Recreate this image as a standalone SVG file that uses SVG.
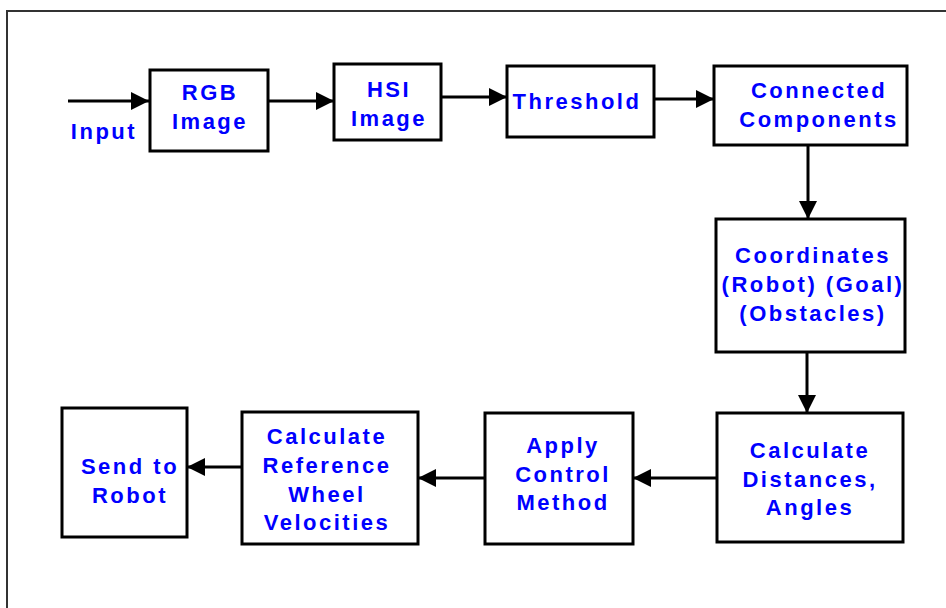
<svg xmlns="http://www.w3.org/2000/svg" width="946" height="608" viewBox="0 0 946 608">
  <style>
    .box { fill: #ffffff; stroke: #000000; stroke-width: 3; }
    .lbl { font-family: "Liberation Sans", Arial, sans-serif; font-weight: bold; font-size: 22px; fill: #0000ff; letter-spacing: 2.5px; text-anchor: middle; }
    .wire { fill: none; stroke: #000000; stroke-width: 3; marker-end: url(#head); }
  </style>
  <defs>
    <marker id="head" markerUnits="userSpaceOnUse" markerWidth="20" markerHeight="20" refX="18" refY="10" orient="auto">
      <path d="M0,1 L18,10 L0,19 z" fill="#000000"/>
    </marker>
  </defs>

  <rect width="946" height="608" fill="#ffffff"/>
  <!-- outer frame -->
  <path d="M7,608 V11 H946" fill="none" stroke="#333333" stroke-width="2"/>

  <!-- input label -->
  <text class="lbl" x="104" y="139">Input</text>

  <g id="rgb-image">
    <rect class="box" x="150" y="70" width="118" height="81"/>
    <text class="lbl" x="210" y="100">RGB</text>
    <text class="lbl" x="210" y="129">Image</text>
  </g>

  <g id="hsi-image">
    <rect class="box" x="334" y="64" width="107" height="76"/>
    <text class="lbl" x="389" y="97">HSI</text>
    <text class="lbl" x="389" y="126">Image</text>
  </g>

  <g id="threshold">
    <rect class="box" x="507" y="66" width="147" height="71"/>
    <text class="lbl" x="577" y="109">Threshold</text>
  </g>

  <g id="connected-components">
    <rect class="box" x="714" y="66" width="193" height="79"/>
    <text class="lbl" x="819" y="98">Connected</text>
    <text class="lbl" x="819" y="127">Components</text>
  </g>

  <g id="coordinates">
    <rect class="box" x="716" y="219" width="189" height="133"/>
    <text class="lbl" x="813" y="263">Coordinates</text>
    <text class="lbl" x="813" y="292">(Robot) (Goal)</text>
    <text class="lbl" x="813" y="321">(Obstacles)</text>
  </g>

  <g id="calc-distances">
    <rect class="box" x="717" y="413" width="186" height="129"/>
    <text class="lbl" x="810" y="458">Calculate</text>
    <text class="lbl" x="810" y="487">Distances,</text>
    <text class="lbl" x="810" y="515">Angles</text>
  </g>

  <g id="apply-control">
    <rect class="box" x="485" y="413" width="148" height="131"/>
    <text class="lbl" x="563" y="453">Apply</text>
    <text class="lbl" x="563" y="482">Control</text>
    <text class="lbl" x="563" y="510">Method</text>
  </g>

  <g id="calc-wheel-velocities">
    <rect class="box" x="242" y="412" width="176" height="132"/>
    <text class="lbl" x="327" y="444">Calculate</text>
    <text class="lbl" x="327" y="473">Reference</text>
    <text class="lbl" x="327" y="502">Wheel</text>
    <text class="lbl" x="327" y="530">Velocities</text>
  </g>

  <g id="send-to-robot">
    <rect class="box" x="62" y="408" width="125" height="129"/>
    <text class="lbl" x="130" y="474">Send to</text>
    <text class="lbl" x="130" y="503">Robot</text>
  </g>

  <g id="connectors">
    <path class="wire" d="M68,101 H149"/>
    <path class="wire" d="M268,101 H334"/>
    <path class="wire" d="M441,97 H507"/>
    <path class="wire" d="M654,99 H714"/>
    <path class="wire" d="M808,145 V219"/>
    <path class="wire" d="M807,352 V413"/>
    <path class="wire" d="M717,478 H633"/>
    <path class="wire" d="M485,478 H418"/>
    <path class="wire" d="M242,467 H187"/>
  </g>
</svg>
